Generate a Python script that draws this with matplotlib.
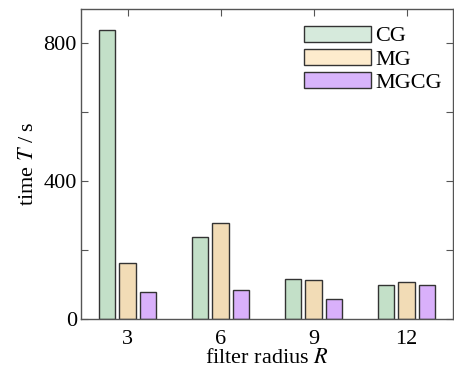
import matplotlib
matplotlib.use("Agg")
import matplotlib.pyplot as plt
import numpy as np
from matplotlib.ticker import MultipleLocator
from matplotlib.patches import Patch

radii = ["3", "6", "9", "12"]
series = ["CG", "MG", "MGCG"]
cg = [840, 238, 116, 98]
mg = [164, 279, 113, 107]
mgcg = [79, 83, 57, 100]

bar_colors = ["#c3e0c8", "#f2dcb6", "#d9b0fb"]
legend_colors = ["#d6eadc", "#fdebcd", "#d8b4fc"]

plt.rcParams["font.family"] = ["Liberation Serif", "DejaVu Serif"]
plt.rcParams["mathtext.fontset"] = "stix"
plt.rcParams["font.size"] = 16

fig = plt.figure(figsize=(4.54, 3.67), dpi=100)
ax = fig.add_axes([0.1784, 0.1308, 0.8196, 0.8447])

x = np.arange(1, len(radii) + 1)
w = 0.175
step = 0.22
for i, (vals, c) in enumerate(zip([cg, mg, mgcg], bar_colors)):
    ax.bar(x + (i - 1) * step, vals, width=w, color=c, edgecolor="#333333", linewidth=1.0, zorder=2)

ax.set_xlim(0.5, 4.5)
ax.set_ylim(0, 900)
ax.set_xticks(x)
ax.set_xticklabels(radii)
ax.yaxis.set_major_locator(MultipleLocator(400))
ax.yaxis.set_minor_locator(MultipleLocator(200))
ax.tick_params(axis="both", which="both", direction="in", top=True, right=True, length=5, width=0.8, color="#555555", labelsize=16)
ax.tick_params(axis="x", pad=8)
ax.tick_params(axis="y", pad=3)
for s in ax.spines.values():
    s.set_color("#555555")
    s.set_linewidth(1.0)

ax.set_ylabel("time $T$ / s", fontsize=16, labelpad=4)
ax.set_xlabel("filter radius $R$", fontsize=16, labelpad=0)

handles = [Patch(facecolor=c, edgecolor="#333333", linewidth=1.0) for c in legend_colors]
ax.legend(handles, series, loc="upper right", bbox_to_anchor=(1.012, 0.996), frameon=False,
          handlelength=3.0, handleheight=0.72, handletextpad=0.2, labelspacing=0.12,
          borderaxespad=0.3, fontsize=16)

fig.savefig("out.png", dpi=100)
